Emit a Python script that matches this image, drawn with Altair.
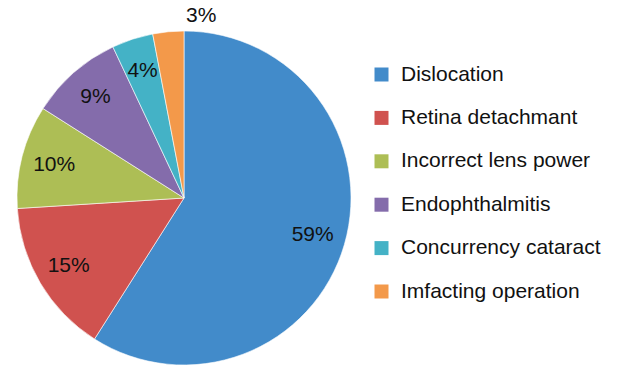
import altair as alt
import pandas as pd

categories = ["Dislocation", "Retina detachmant", "Incorrect lens power",
              "Endophthalmitis", "Concurrency cataract", "Imfacting operation"]
values = [59, 15, 10, 9, 4, 3]
colors = ["#428bca", "#d0524f", "#adbe55", "#846cab", "#44b2c6", "#f3994a"]

df = pd.DataFrame({
    "category": categories,
    "value": values,
    "order": list(range(len(categories))),
    "label": [f"{v}%" for v in values],
})

CX, CY, R = 184, 198, 167
FONT = "Liberation Sans"

base = alt.Chart(df).encode(
    theta=alt.Theta("value:Q", stack=True),
    order=alt.Order("order:Q", sort="ascending"),
    x=alt.value(CX),
    y=alt.value(CY),
)

pie = base.mark_arc(radius=R, stroke="#ffffff", strokeWidth=0.6).encode(
    color=alt.Color(
        "category:N",
        scale=alt.Scale(domain=categories, range=colors),
        sort=categories,
        legend=alt.Legend(
            title=None,
            orient="none",
            legendX=371,
            legendY=64,
            symbolType="square",
            symbolSize=196,
            symbolStrokeWidth=0,
            labelFontSize=21,
            labelFont=FONT,
            labelColor="#111111",
            labelOffset=9,
            rowPadding=21.4,
            labelLimit=300,
        ),
    )
)

inner = base.transform_filter("datum.value >= 4").mark_text(
    radius=134, fontSize=21, font=FONT, color="#111111"
).encode(text="label:N")

outer = base.transform_filter("datum.value < 4").mark_text(
    radius=183, fontSize=21, font=FONT, color="#111111"
).encode(text="label:N")

chart = alt.layer(pie, inner, outer).properties(
    width=626, height=367,
    autosize=alt.AutoSizeParams(type="none"),
    padding=0,
).configure_view(stroke=None)

chart.save("out.html", embed_options={"renderer": "svg", "actions": False})
